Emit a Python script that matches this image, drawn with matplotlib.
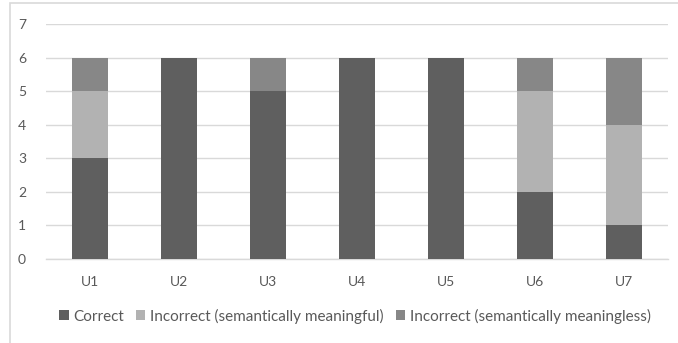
import matplotlib
matplotlib.use("Agg")
import matplotlib.pyplot as plt
from matplotlib.patches import Patch, Rectangle
import numpy as np

plt.rcParams['font.family'] = ['Lato', 'DejaVu Sans']

users = ["U1", "U2", "U3", "U4", "U5", "U6", "U7"]
correct = [3, 6, 5, 6, 6, 2, 1]
incorrect_meaningful = [2, 0, 0, 0, 0, 3, 3]
incorrect_meaningless = [1, 0, 1, 0, 0, 1, 2]
series_names = ["Correct", "Incorrect (semantically meaningful)",
                "Incorrect (semantically meaningless)"]
y_ticks = [0, 1, 2, 3, 4, 5, 6, 7]

colors = ["#5f5f5f", "#b2b2b2", "#878787"]
text_color = "#595959"
grid_color = "#d9d9d9"

W, H = 678, 343
fig = plt.figure(figsize=(W / 100, H / 100), dpi=100)

# chart area frame (left and top edges)
fig.add_artist(Rectangle((10 / W, -0.1), 1.2, 1 - 3 / H + 0.1,
                         transform=fig.transFigure, fill=False,
                         edgecolor=grid_color, linewidth=1.2))

ax = fig.add_axes([45.5 / W, 1 - 259 / H, (668 - 45.5) / W, (259 - 24) / H])

x = np.arange(len(users))
width = 0.405
bottom = np.zeros(len(users))
for vals, col, name in zip([correct, incorrect_meaningful, incorrect_meaningless],
                           colors, series_names):
    ax.bar(x, vals, width, bottom=bottom, color=col, label=name, zorder=3)
    bottom += np.array(vals)

ax.set_xlim(-0.5, len(users) - 0.5)
ax.set_ylim(0, 7)
ax.set_yticks(y_ticks)
ax.set_xticks(x)
ax.set_xticklabels(users)
ax.yaxis.grid(True, color=grid_color, linewidth=1.0, zorder=0)
ax.set_axisbelow(True)
for s in ["top", "right", "left"]:
    ax.spines[s].set_visible(False)
ax.spines["bottom"].set_color(grid_color)
ax.spines["bottom"].set_linewidth(1.0)
ax.tick_params(axis="both", length=0, colors=text_color, labelsize=10)
ax.tick_params(axis="y", pad=14)
ax.tick_params(axis="x", pad=12)

handles = [Patch(facecolor=c, edgecolor="none") for c in colors]
fig.legend(handles, series_names, loc="center", bbox_to_anchor=(355 / W, 1 - 316 / H),
           ncol=3, frameon=False, fontsize=11, labelcolor=text_color,
           handlelength=0.6, handleheight=0.6, handletextpad=0.3, columnspacing=0.8)

fig.savefig("out.png", dpi=100)
